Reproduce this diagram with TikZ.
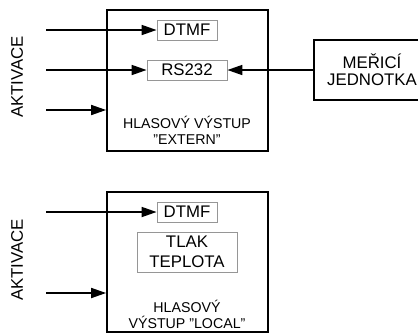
\documentclass[tikz,border=0pt]{standalone}
\usepackage{fontspec}
\setmainfont{Liberation Sans}
\usetikzlibrary{arrows.meta}
\definecolor{ramG}{RGB}{150,150,150}

\begin{document}
\begin{tikzpicture}[x=1pt,y=-1pt,
    blok/.style={draw,line width=1.7pt,inner sep=0pt},
    pole/.style={draw=ramG,line width=0.8pt,inner sep=0pt,font=\fontsize{16.8}{20}\selectfont,align=center},
    popis/.style={inner sep=0pt,font=\fontsize{14.2}{16}\selectfont,align=center},
    sipka/.style={line width=1.7pt,-{Triangle[length=15pt,width=10pt]}}]
            \useasboundingbox (0,0) rectangle (418,333);

            % horni cast
            \node[blok,minimum width=161pt,minimum height=141pt] (horni) at (187.5,80.5) {};
            \node[pole,minimum width=60pt,minimum height=20pt] (dtmfA) at (187,30) {DTMF};
            \node[pole,minimum width=80pt,minimum height=20pt] (rs) at (187,70) {RS232};
            \node[popis] (extern) at (187,130) {HLASOVÝ VÝSTUP\\"EXTERN"};
            \node[blok,minimum width=116pt,minimum height=60pt,align=center,
                  font=\fontsize{16.8}{17}\selectfont] (meric) at (372,70) {MEŘICÍ\\JEDNOTKA};
            \node[rotate=90,inner sep=0pt,font=\fontsize{16.8}{20}\selectfont] (aktA) at (17,77) {AKTIVACE};
            \coordinate (a1) at (46,30);
            \coordinate (a2) at (46,70);
            \coordinate (a3) at (46,110);
            \draw[sipka] (a1)--(dtmfA.west);
            \draw[sipka] (a2)--(rs.west);
            \draw[sipka] (a3)--(horni.west |- a3);
            \draw[sipka] (meric.west)--(rs.east);

            % dolni cast
            \node[blok,minimum width=161pt,minimum height=140pt] (dolni) at (187.5,262) {};
            \node[pole,minimum width=60pt,minimum height=20pt] (dtmfB) at (187,212) {DTMF};
            \node[pole,minimum width=100pt,minimum height=40pt] (tlak) at (187,252) {TLAK\\TEPLOTA};
            \node[popis] (local) at (187,314) {HLASOVÝ\\VÝSTUP "LOCAL"};
            \node[rotate=90,inner sep=0pt,font=\fontsize{16.8}{20}\selectfont] (aktB) at (17,260) {AKTIVACE};
            \coordinate (b1) at (46,212);
            \coordinate (b2) at (46,293);
            \draw[sipka] (b1)--(dtmfB.west);
            \draw[sipka] (b2)--(dolni.west |- b2);
        \end{tikzpicture}
\end{document}
